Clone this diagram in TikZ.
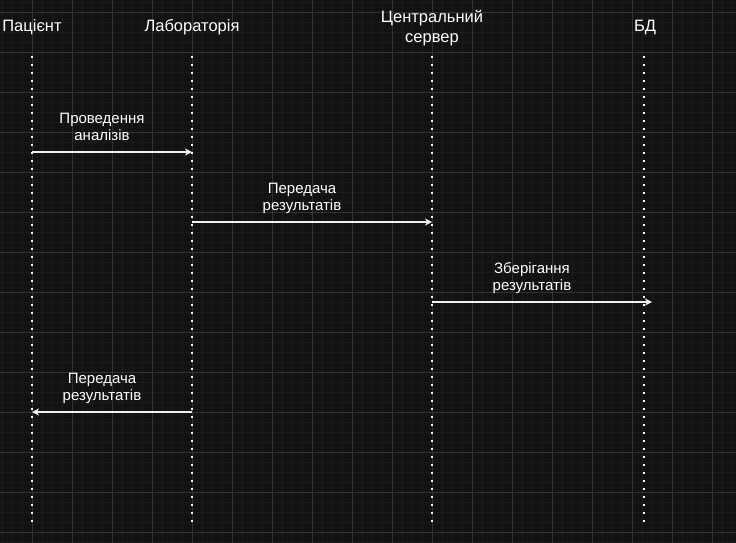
\documentclass[tikz,border=0pt]{standalone}
\usepackage{fontspec}
\setmainfont{Liberation Sans}
\usetikzlibrary{arrows.meta,positioning}

\definecolor{canvas}{HTML}{121212}
\definecolor{minorgrid}{HTML}{1B1B1B}
\definecolor{majorgrid}{HTML}{323232}
\definecolor{ink}{HTML}{F0F0F0}

\begin{document}
\begin{tikzpicture}[x=1pt, y=-1pt]
		\tikzstyle{Actor}	= [text=white, font=\fontsize{16.5}{20}\selectfont, inner sep=0pt, align=center]
		\tikzstyle{Label}	= [text=white, font=\fontsize{15}{16.5}\selectfont, inner sep=0pt, align=center]
		\tikzstyle{Lifeline}	= [draw=white, line width=2pt, dash pattern=on 2pt off 6pt]
		\tikzstyle{Msg}		= [draw=ink, line width=1.2pt, -{Stealth[length=7pt, width=7pt, inset=2pt]}]

		% background and grid
		\fill [canvas] (0,0) rectangle (736,543);
		\useasboundingbox (0,0) rectangle (736,543);
		\begin{scope}[shift={(2.5,2.5)}]
			\draw [minorgrid, line width=1pt, step=10pt] (-2.5,-2.5) grid (733.5,540.5);
		\end{scope}
		\begin{scope}[shift={(32.5,12.5)}]
			\draw [majorgrid, line width=1pt, step=40pt] (-32.5,-12.5) grid (703.5,530.5);
		\end{scope}

		% participants
		\node (pat) at (32,32) [Actor, anchor=base] {Пацієнт};
		\node (lab) at (192,32) [Actor, anchor=base] {Лабораторія};
		\node (srv) at (432,43) [Actor, anchor=base] {Центральний\\сервер};
		\node (db)  at (645,32) [Actor, anchor=base] {БД};

		% lifelines
		\coordinate (pat-top) at (32,56);	\coordinate (pat-end) at (32,522);
		\coordinate (lab-top) at (192,56);	\coordinate (lab-end) at (192,522);
		\coordinate (srv-top) at (432,56);	\coordinate (srv-end) at (432,522);
		\coordinate (db-top)  at (644,56);	\coordinate (db-end)  at (644,522);

		\draw [-] (pat-top) to (pat-end) [Lifeline];
		\draw [-] (lab-top) to (lab-end) [Lifeline];
		\draw [-] (srv-top) to (srv-end) [Lifeline];
		\draw [-] (db-top) to (db-end) [Lifeline];

		% messages
		\coordinate (m1a) at (32,152);	\coordinate (m1b) at (192,152);
		\coordinate (m2a) at (192,222);	\coordinate (m2b) at (432,222);
		\coordinate (m3a) at (432,302);	\coordinate (m3b) at (652,302);
		\coordinate (m4a) at (192,412);	\coordinate (m4b) at (32,412);

		\draw (m1a) to (m1b) [Msg];
		\draw (m2a) to (m2b) [Msg];
		\draw (m3a) to (m3b) [Msg];
		\draw (m4a) to (m4b) [Msg];

		\node (l1) at (102,140) [Label, anchor=base] {Проведення\\аналізів};
		\node (l2) at (302,210) [Label, anchor=base] {Передача\\результатів};
		\node (l3) at (532,290) [Label, anchor=base] {Зберігання\\результатів};
		\node (l4) at (102,400) [Label, anchor=base] {Передача\\результатів};
	\end{tikzpicture}
\end{document}
